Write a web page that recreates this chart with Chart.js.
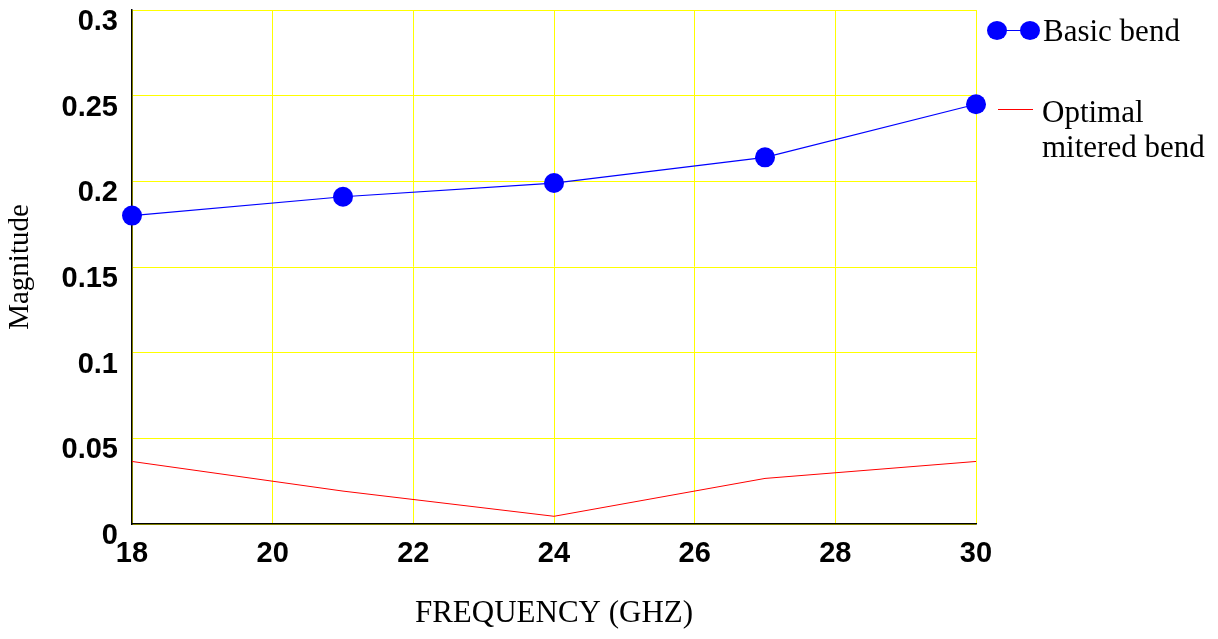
<!DOCTYPE html>
<html>
<head>
<meta charset="utf-8">
<script src="https://cdn.jsdelivr.net/npm/chart.js@4.4.1/dist/chart.umd.min.js"></script>
<style>
html,body{margin:0;padding:0;background:#fff;}
#wrap{width:1218px;height:639px;position:relative;}
</style>
</head>
<body>
<div id="wrap"><canvas id="c"></canvas></div>
<script>
const frequencies = [18, 21, 24, 27, 30];
const basicBend = [0.180, 0.191, 0.199, 0.214, 0.245];
const optimalMitered = [0.0365, 0.0192, 0.0045, 0.0266, 0.0365];
const xTicks = [18, 20, 22, 24, 26, 28, 30];
const xTickLabels = ['18', '20', '22', '24', '26', '28', '30'];
const yTicks = [0, 0.05, 0.1, 0.15, 0.2, 0.25, 0.3];
const yTickLabels = ['0', '0.05', '0.1', '0.15', '0.2', '0.25', '0.3'];
const seriesNames = ['Basic bend', ['Optimal', 'mitered bend']];

const SANS = '"Liberation Sans", Arial, sans-serif';
const SERIF = '"Liberation Serif", "Times New Roman", serif';

const legendPlugin = {
  id: 'customLegend',
  afterDraw(chart) {
    const ctx = chart.ctx;
    const r = chart.chartArea.right;
    const ds0 = chart.data.datasets[0];
    const ds1 = chart.data.datasets[1];
    ctx.save();
    // Basic bend
    ctx.strokeStyle = ds0.borderColor;
    ctx.lineWidth = 1.2;
    ctx.beginPath();
    ctx.moveTo(r + 21, 30.5);
    ctx.lineTo(r + 54, 30.5);
    ctx.stroke();
    ctx.fillStyle = ds0.pointBackgroundColor;
    [r + 21, r + 54].forEach(x => {
      ctx.beginPath();
      ctx.ellipse(x, 30.5, 10, 9.5, 0, 0, Math.PI * 2);
      ctx.fill();
    });
    ctx.fillStyle = '#000';
    ctx.font = '31px ' + SERIF;
    ctx.textBaseline = 'alphabetic';
    ctx.textAlign = 'left';
    ctx.fillText(seriesNames[0], r + 67, 41);
    // Optimal mitered bend
    ctx.strokeStyle = ds1.borderColor;
    ctx.lineWidth = 1;
    ctx.beginPath();
    ctx.moveTo(r + 22, 109.5);
    ctx.lineTo(r + 57, 109.5);
    ctx.stroke();
    ctx.fillText(seriesNames[1][0], r + 66, 122);
    ctx.fillText(seriesNames[1][1], r + 66, 157);
    ctx.restore();
  }
};

new Chart(document.getElementById('c'), {
  type: 'line',
  data: {
    datasets: [
      {
        label: 'Basic bend',
        data: frequencies.map((f, i) => ({x: f, y: basicBend[i]})),
        borderColor: '#0000ff',
        backgroundColor: '#0000ff',
        pointBackgroundColor: '#0000ff',
        pointBorderColor: '#0000ff',
        borderWidth: 1.2,
        pointRadius: 10,
        pointBorderWidth: 0,
        pointHoverRadius: 10,
        tension: 0,
        clip: false
      },
      {
        label: 'Optimal mitered bend',
        data: frequencies.map((f, i) => ({x: f, y: optimalMitered[i]})),
        borderColor: '#ff0000',
        backgroundColor: '#ff0000',
        borderWidth: 1,
        pointRadius: 0,
        tension: 0,
        clip: false
      }
    ]
  },
  options: {
    responsive: true,
    maintainAspectRatio: false,
    animation: false,
    events: [],
    layout: {padding: {left: 0, top: 8, right: 242, bottom: 0}},
    plugins: {
      legend: {display: false},
      tooltip: {enabled: false}
    },
    scales: {
      x: {
        type: 'linear',
        min: 18,
        max: 30,
        afterBuildTicks: s => { s.ticks = xTicks.map(v => ({value: v})); },
        afterFit: s => { s.height = 115; s.paddingLeft = 0; s.paddingRight = 0; },
        grid: {color: '#ffff00', lineWidth: 1, drawTicks: false},
        border: {color: '#000', width: 1.5},
        ticks: {
          padding: 13,
          color: '#000',
          font: {family: SANS, size: 29, weight: 'bold'},
          callback: (v, i) => xTickLabels[i],
          maxRotation: 0,
          autoSkip: false
        },
        title: {
          display: true,
          text: 'FREQUENCY (GHZ)',
          color: '#000',
          font: {family: SERIF, size: 31, lineHeight: 1.2},
          padding: {top: 0, bottom: 7}
        }
      },
      y: {
        type: 'linear',
        min: 0,
        max: 0.3,
        afterBuildTicks: s => { s.ticks = yTicks.map(v => ({value: v})); },
        afterFit: s => { s.width = 132; s.paddingTop = 0; s.paddingBottom = 0; },
        grid: {color: '#ffff00', lineWidth: 1, drawTicks: false},
        border: {color: '#000', width: 1.5},
        ticks: {
          padding: 14,
          labelOffset: 12,
          color: '#000',
          font: {family: SANS, size: 29, weight: 'bold'},
          callback: (v, i) => yTickLabels[i],
          autoSkip: false
        },
        title: {
          display: true,
          text: 'Magnitude',
          color: '#000',
          font: {family: SERIF, size: 29, lineHeight: 1.2},
          padding: {top: 3, bottom: 0}
        }
      }
    }
  },
  plugins: [legendPlugin]
});
</script>
</body>
</html>
